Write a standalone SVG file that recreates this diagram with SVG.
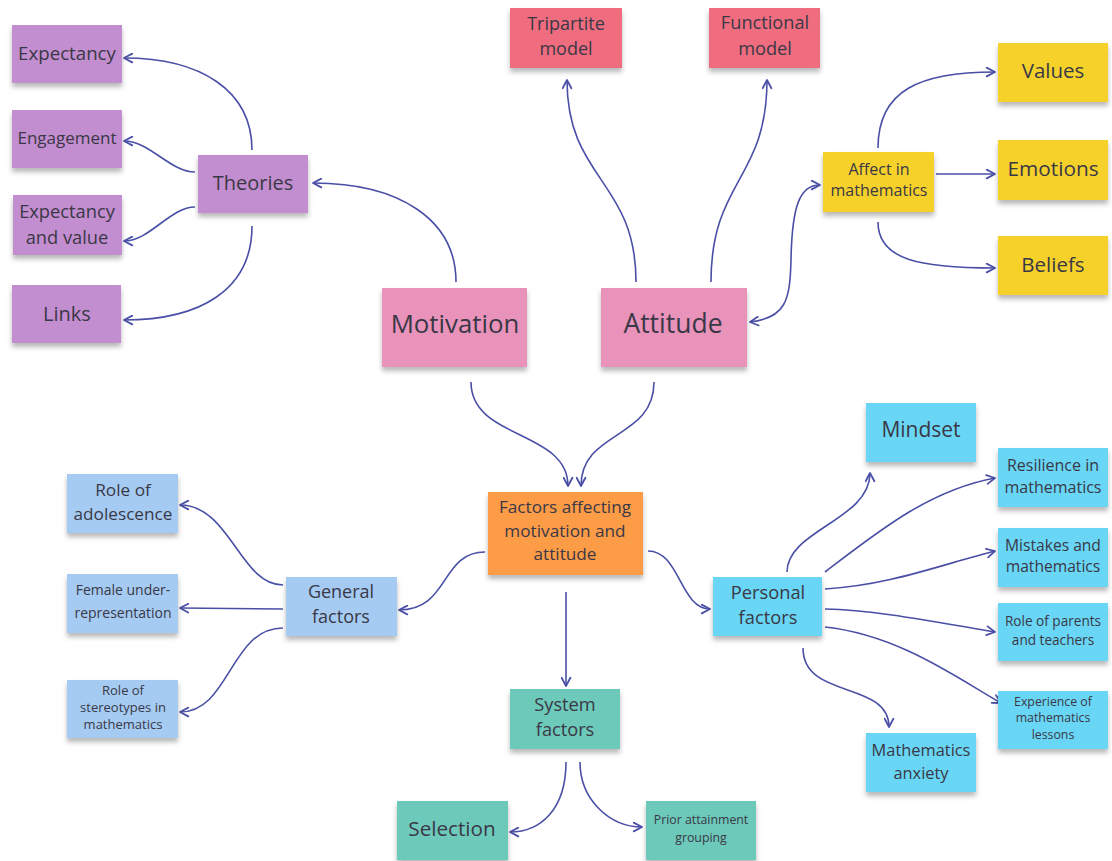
<svg xmlns="http://www.w3.org/2000/svg" width="1112" height="861" viewBox="0 0 1112 861">
  <defs>
    <filter id="note-shadow" x="-10%" y="-10%" width="120%" height="140%">
      <feDropShadow dx="0" dy="4" stdDeviation="2.5" flood-color="#000" flood-opacity="0.28"/>
    </filter>
    <marker id="chev" viewBox="0 0 10 10" refX="9" refY="5" markerWidth="11" markerHeight="11" markerUnits="userSpaceOnUse" orient="auto-start-reverse">
      <path d="M1.5,1 L9,5 L1.5,9" fill="none" stroke="#4a4fa6" stroke-width="1.6" stroke-linecap="round" stroke-linejoin="round"/>
    </marker>
    <style>
      .note { filter: url(#note-shadow); }
      .purple { fill: #c38ed0; }
      .red { fill: #f06d80; }
      .yellow { fill: #f5d12a; }
      .pink { fill: #e993bb; }
      .orange { fill: #fd9c47; }
      .blue { fill: #a5cbf3; }
      .cyan { fill: #69d6f5; }
      .teal { fill: #6dc9ba; }
      text { font-family: "Open Sans", "Noto Sans", sans-serif; fill: #3a3846; text-anchor: middle; dominant-baseline: central; }
      .conn path { fill: none; stroke: #4a4fa6; stroke-width: 1.6; marker-end: url(#chev); }
    </style>
  </defs>

  <rect width="1112" height="861" fill="#ffffff"/>

  <!-- connectors -->
  <g id="connectors" class="conn">
    <path d="M456,282 C456,220 400,183 313,183"/>
    <path d="M252,150 C252,90 200,58 124,58"/>
    <path d="M195,172 C170,172 150,141 124,141"/>
    <path d="M195,207 C170,207 150,241 124,241"/>
    <path d="M252,226 C252,290 200,320 124,320"/>
    <path d="M636,282 C636,180 567,180 567,80"/>
    <path d="M711,282 C711,180 767,180 767,80"/>
    <path d="M750,322 C786,318 790,300 791,260 C792,205 800,185 820,185" marker-start="url(#chev)"/>
    <path d="M878,148 C878,90 920,72 995,72"/>
    <path d="M936,174 L995,174"/>
    <path d="M878,222 C878,260 920,268 995,268"/>
    <path d="M471,382 C471,440 568,430 568,486"/>
    <path d="M654,382 C654,440 581,430 581,486"/>
    <path d="M485,552 C440,552 450,610 399,610"/>
    <path d="M566,592 L566,686"/>
    <path d="M648,551 C680,551 680,609 710,609"/>
    <path d="M283,585 C240,585 230,505 180,505"/>
    <path d="M283,609 L180,608"/>
    <path d="M283,628 C230,628 230,712 180,712"/>
    <path d="M787,572 C787,530 870,520 870,473"/>
    <path d="M825,572 C880,530 930,490 995,478"/>
    <path d="M825,589 C890,585 940,565 995,551"/>
    <path d="M825,609 C880,610 950,625 995,632"/>
    <path d="M825,627 C900,635 960,680 1001,703"/>
    <path d="M803,648 C803,700 889,680 889,727"/>
    <path d="M566,762 C566,810 540,832 510,832"/>
    <path d="M580,762 C580,800 610,827 642,827"/>
  </g>

  <!-- motivation branch -->
  <g id="expectancy"><rect class="note purple" x="12" y="25" width="110" height="58"/><text x="67" y="52" font-size="18.7">Expectancy</text></g>
  <g id="engagement"><rect class="note purple" x="12" y="110" width="110" height="58"/><text x="67" y="137" font-size="17">Engagement</text></g>
  <g id="expectancy-value"><rect class="note purple" x="13" y="195" width="109" height="60"/><text x="67" y="210" font-size="18.3">Expectancy</text><text x="67" y="236" font-size="18.3">and value</text></g>
  <g id="links"><rect class="note purple" x="12" y="285" width="109" height="58"/><text x="67" y="313" font-size="20">Links</text></g>
  <g id="theories"><rect class="note purple" x="198" y="155" width="110" height="58"/><text x="253" y="182" font-size="20">Theories</text></g>

  <!-- attitude branch -->
  <g id="tripartite"><rect class="note red" x="510" y="8" width="112" height="60"/><text x="566" y="23" font-size="18">Tripartite</text><text x="566" y="48" font-size="18">model</text></g>
  <g id="functional"><rect class="note red" x="709" y="8" width="111" height="60"/><text x="765" y="22" font-size="18.2">Functional</text><text x="765" y="48" font-size="18.2">model</text></g>
  <g id="affect"><rect class="note yellow" x="823" y="152" width="111" height="60"/><text x="879" y="169" font-size="16">Affect in</text><text x="879" y="190" font-size="16">mathematics</text></g>
  <g id="values"><rect class="note yellow" x="998" y="43" width="110" height="59"/><text x="1053" y="70" font-size="20.5">Values</text></g>
  <g id="emotions"><rect class="note yellow" x="998" y="140" width="110" height="60"/><text x="1053" y="168" font-size="20.8">Emotions</text></g>
  <g id="beliefs"><rect class="note yellow" x="998" y="236" width="110" height="59"/><text x="1053" y="264" font-size="20.5">Beliefs</text></g>

  <!-- central concepts -->
  <g id="motivation"><rect class="note pink" x="382" y="288" width="145" height="79"/><text x="455" y="323" font-size="25.8">Motivation</text></g>
  <g id="attitude"><rect class="note pink" x="601" y="288" width="146" height="79"/><text x="673" y="323" font-size="26.5">Attitude</text></g>
  <g id="factors"><rect class="note orange" x="488" y="492" width="155" height="83"/><text x="565" y="506" font-size="17.2">Factors affecting</text><text x="565" y="530" font-size="17.2">motivation and</text><text x="565" y="553" font-size="17.2">attitude</text></g>

  <!-- general factors -->
  <g id="general"><rect class="note blue" x="286" y="577" width="111" height="59"/><text x="341" y="591" font-size="18">General</text><text x="341" y="616" font-size="18">factors</text></g>
  <g id="adolescence"><rect class="note blue" x="67" y="474" width="111" height="59"/><text x="123" y="489" font-size="17.2">Role of</text><text x="123" y="513" font-size="17.2">adolescence</text></g>
  <g id="female"><rect class="note blue" x="67" y="574" width="111" height="59"/><text x="123" y="589" font-size="14">Female under-</text><text x="123" y="612" font-size="14">representation</text></g>
  <g id="stereotypes"><rect class="note blue" x="67" y="680" width="111" height="58"/><text x="123" y="690" font-size="13">Role of</text><text x="123" y="707" font-size="13">stereotypes in</text><text x="123" y="724" font-size="13">mathematics</text></g>

  <!-- personal factors -->
  <g id="personal"><rect class="note cyan" x="713" y="577" width="109" height="59"/><text x="768" y="591" font-size="18.3">Personal</text><text x="768" y="616" font-size="18.3">factors</text></g>
  <g id="mindset"><rect class="note cyan" x="866" y="403" width="110" height="59"/><text x="921" y="429" font-size="21">Mindset</text></g>
  <g id="resilience"><rect class="note cyan" x="998" y="448" width="110" height="59"/><text x="1053" y="465" font-size="16">Resilience in</text><text x="1053" y="487" font-size="16">mathematics</text></g>
  <g id="mistakes"><rect class="note cyan" x="998" y="528" width="110" height="59"/><text x="1053" y="545" font-size="15.6">Mistakes and</text><text x="1053" y="566" font-size="15.6">mathematics</text></g>
  <g id="parents"><rect class="note cyan" x="998" y="603" width="110" height="58"/><text x="1053" y="620" font-size="13.6">Role of parents</text><text x="1053" y="639" font-size="13.6">and teachers</text></g>
  <g id="experience"><rect class="note cyan" x="998" y="691" width="110" height="58"/><text x="1053" y="701" font-size="12.3">Experience of</text><text x="1053" y="717" font-size="12.3">mathematics</text><text x="1053" y="734" font-size="12.3">lessons</text></g>
  <g id="anxiety"><rect class="note cyan" x="866" y="733" width="110" height="59"/><text x="921" y="749" font-size="16.4">Mathematics</text><text x="921" y="772" font-size="16.4">anxiety</text></g>

  <!-- system factors -->
  <g id="system"><rect class="note teal" x="510" y="689" width="110" height="60"/><text x="565" y="704" font-size="18.2">System</text><text x="565" y="729" font-size="18.2">factors</text></g>
  <g id="selection"><rect class="note teal" x="397" y="801" width="111" height="59"/><text x="452" y="828" font-size="20.7">Selection</text></g>
  <g id="prior"><rect class="note teal" x="646" y="801" width="110" height="59"/><text x="701" y="819" font-size="12.3">Prior attainment</text><text x="701" y="837" font-size="12.3">grouping</text></g>
</svg>
